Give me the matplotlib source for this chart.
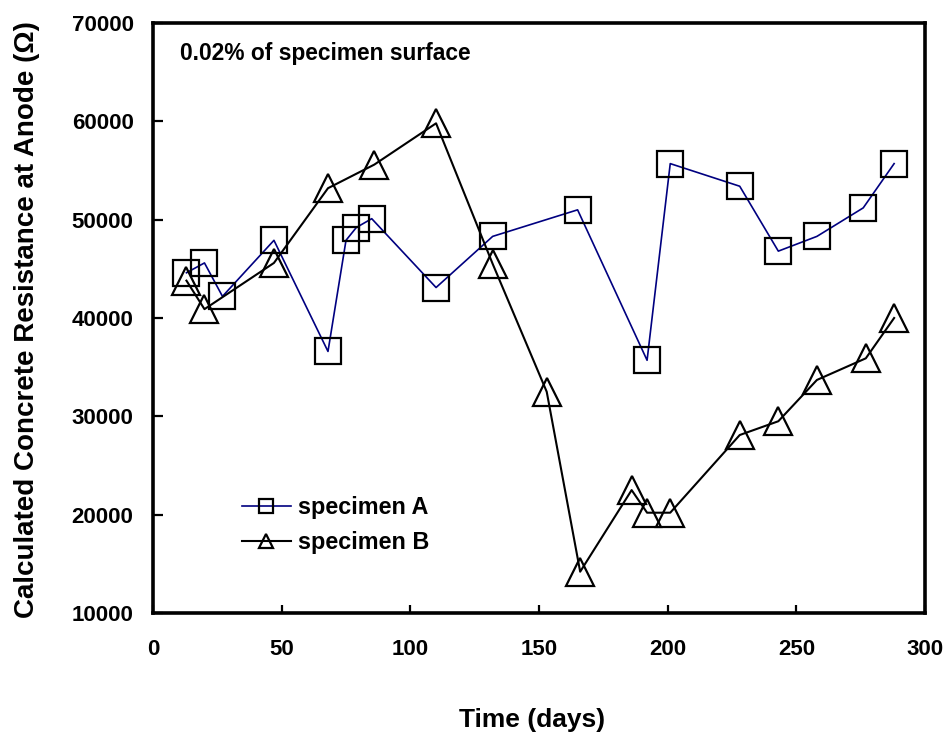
import matplotlib
matplotlib.use("Agg")
import matplotlib.pyplot as plt

# ---- data ----
days_a = [13, 20, 27, 47, 68, 75, 79, 85, 110, 132, 165, 192, 201, 228, 243, 258, 276, 288]
res_a = [44600, 45600, 42200, 47900, 36600, 47900, 49200, 50100, 43100, 48300,
         51000, 35700, 55700, 53400, 46800, 48300, 51200, 55700]

days_b = [13, 20, 47, 68, 86, 110, 132, 153, 166, 186, 192, 201, 228, 243, 258, 277, 288]
res_b = [43800, 40900, 45600, 53200, 55600, 59800, 45500, 32500, 14200, 22500,
         20200, 20200, 28100, 29500, 33700, 35900, 40000]

x_ticks = [0, 50, 100, 150, 200, 250, 300]
y_ticks = [10000, 20000, 30000, 40000, 50000, 60000, 70000]
label_a = "specimen A"
label_b = "specimen B"
note = "0.02% of specimen surface"
x_label = "Time (days)"
y_label = "Calculated Concrete Resistance at Anode (\u03A9)"

plt.rcParams['font.family'] = ['Liberation Sans', 'DejaVu Sans']
plt.rcParams['font.weight'] = 'bold'

fig = plt.figure(figsize=(9.5, 7.42), dpi=100)
ax = fig.add_axes([153/950, 1-613/742, 772/950, 590/742])

ax.plot(days_a, res_a, color='#000080', lw=1.2, marker='s', ms=18.5,
        mfc='none', mec='black', mew=1.6, label=label_a)
ax.plot(days_b, res_b, color='black', lw=1.5, marker='^', ms=19.5,
        mfc='none', mec='black', mew=1.6, label=label_b)

ax.set_xlim(0, 300)
ax.set_ylim(10000, 70000)
ax.set_xticks(x_ticks)
ax.set_yticks(y_ticks)
ax.set_xticklabels([str(v) for v in x_ticks], fontsize=16, fontweight='bold')
ax.set_yticklabels([str(v) for v in y_ticks], fontsize=16, fontweight='bold')
ax.tick_params(axis='x', direction='in', length=6, width=1.6, pad=19, top=False)
ax.tick_params(axis='y', direction='in', length=7, width=1.6, pad=14, right=False)
for s in ax.spines.values():
    s.set_linewidth(2.6)

ax.set_xlabel(x_label, fontsize=19, fontweight='bold')
ax.xaxis.set_label_coords((531.7-153)/772, (613-708)/590)
ax.set_ylabel(y_label, fontsize=20, fontweight='bold')
ax.yaxis.set_label_coords((40-153)/772, 0.497)

ax.text((180-153)/772, (613-60)/590, note, transform=ax.transAxes,
        fontsize=16.4, fontweight='bold', va='baseline', ha='left')

leg = ax.legend(loc='center left', bbox_to_anchor=((241.7-153)/772, (613-525)/590),
                frameon=False, fontsize=16.8, handlelength=2.1, handletextpad=0.3,
                labelspacing=0.5, borderpad=0, borderaxespad=0, markerscale=0.52)
for t in leg.get_texts():
    t.set_fontweight('bold')

fig.savefig("out.png", dpi=100)
